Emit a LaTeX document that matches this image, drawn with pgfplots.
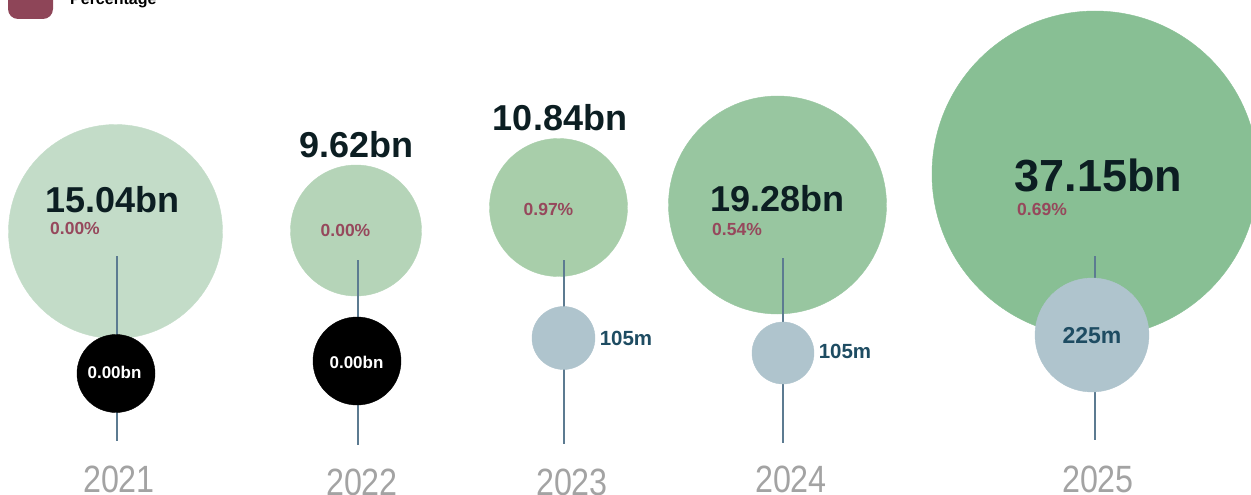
\documentclass[border=0pt]{standalone}
\usepackage{pgfplots}
\pgfplotsset{compat=1.18}
\usepackage{fontspec}
\setmainfont{Liberation Sans}
\definecolor{gA}{RGB}{195,220,200}
\definecolor{gB}{RGB}{181,212,184}
\definecolor{gC}{RGB}{168,206,170}
\definecolor{gD}{RGB}{152,198,160}
\definecolor{gE}{RGB}{136,191,148}
\definecolor{smallc}{RGB}{175,196,205}
\definecolor{stem}{RGB}{92,123,145}
\definecolor{pct}{RGB}{150,72,92}
\definecolor{legc}{RGB}{142,69,88}
\definecolor{dark}{RGB}{12,30,34}
\definecolor{mlab}{RGB}{30,76,98}
\definecolor{yr}{RGB}{163,163,163}
\newcommand{\fs}[1]{\fontsize{#1}{#1}\selectfont}
\begin{document}
\begin{tikzpicture}
\useasboundingbox (0,0) rectangle (1251pt,495pt);
\clip (0,0) rectangle (1251pt,495pt);
\begin{axis}[at={(0pt,0pt)}, anchor=south west, width=1251pt, height=495pt,
  scale only axis, xmin=0, xmax=1251, ymin=0, ymax=495, y dir=reverse,
  axis lines=none, clip=false, clip marker paths=true]
% big bubbles
\addplot[gA, only marks, mark=*, mark size=107pt] coordinates {(115.5,231.5)};
\addplot[gB, only marks, mark=*, mark size=65.5pt] coordinates {(356,230.5)};
\addplot[gC, only marks, mark=*, mark size=69pt] coordinates {(558.5,207.5)};
\addplot[gD, only marks, mark=*, mark size=109pt] coordinates {(777.5,205)};
\addplot[gE, only marks, mark=*, mark size=163pt] coordinates {(1095,174)};
% stems
\addplot[color=stem, line width=2pt] coordinates {(116.5,256) (116.5,441)};
\addplot[color=stem, line width=2pt] coordinates {(357.5,260) (357.5,445)};
\addplot[color=stem, line width=2pt] coordinates {(563.5,260) (563.5,444)};
\addplot[color=stem, line width=2pt] coordinates {(782.5,258) (782.5,443)};
\addplot[color=stem, line width=2pt] coordinates {(1094.5,256) (1094.5,440)};
% small bubbles
\addplot[black, only marks, mark=*, mark size=39pt] coordinates {(116,373.5)};
\addplot[black, only marks, mark=*, mark size=44pt] coordinates {(357,361)};
\addplot[smallc, only marks, mark=*, mark size=31.5pt] coordinates {(563.5,338)};
\addplot[smallc, only marks, mark=*, mark size=31pt] coordinates {(783,353)};
\addplot[smallc, only marks, mark=*, mark size=57pt] coordinates {(1092,335)};
% big labels
\node[text=dark, font=\fs{36}\bfseries] at (axis cs:112.5,200) {15.04bn};
\node[text=dark, font=\fs{36}\bfseries] at (axis cs:356.5,145) {9.62bn};
\node[text=dark, font=\fs{36}\bfseries] at (axis cs:560,118) {10.84bn};
\node[text=dark, font=\fs{36}\bfseries] at (axis cs:777.5,199) {19.28bn};
\node[text=dark, font=\fs{45}\bfseries] at (axis cs:1098.5,175) {37.15bn};
% percentages
\node[text=pct, font=\fs{17.5}\bfseries] at (axis cs:75,228) {0.00\%};
\node[text=pct, font=\fs{17.5}\bfseries] at (axis cs:345.5,230) {0.00\%};
\node[text=pct, font=\fs{17.5}\bfseries] at (axis cs:548.5,209.5) {0.97\%};
\node[text=pct, font=\fs{17.5}\bfseries] at (axis cs:737,229) {0.54\%};
\node[text=pct, font=\fs{17.5}\bfseries] at (axis cs:1042,209) {0.69\%};
% small labels
\node[text=white, font=\fs{17}\bfseries] at (axis cs:114.5,372) {0.00bn};
\node[text=white, font=\fs{17}\bfseries] at (axis cs:356.5,362) {0.00bn};
\node[text=mlab, font=\fs{20.5}\bfseries] at (axis cs:626,338) {105m};
\node[text=mlab, font=\fs{20.5}\bfseries] at (axis cs:845,351) {105m};
\node[text=mlab, font=\fs{23}\bfseries] at (axis cs:1092,335.5) {225m};
% years
\node[text=yr, font=\fs{38}, inner sep=0pt] at (axis cs:119,479) {\scalebox{0.85}[1]{2021}};
\node[text=yr, font=\fs{38}, inner sep=0pt] at (axis cs:362,482) {\scalebox{0.85}[1]{2022}};
\node[text=yr, font=\fs{38}, inner sep=0pt] at (axis cs:572,482) {\scalebox{0.85}[1]{2023}};
\node[text=yr, font=\fs{38}, inner sep=0pt] at (axis cs:791,479.5) {\scalebox{0.85}[1]{2024}};
\node[text=yr, font=\fs{38}, inner sep=0pt] at (axis cs:1098,479) {\scalebox{0.85}[1]{2025}};
% legend
\fill[legc, rounded corners=10pt] (axis cs:8,-30) rectangle (axis cs:53,19);
\node[anchor=base west, font=\fs{16}\bfseries, text=black, inner sep=0pt] at (axis cs:70,5) {Percentage};
\end{axis}
\end{tikzpicture}
\end{document}
